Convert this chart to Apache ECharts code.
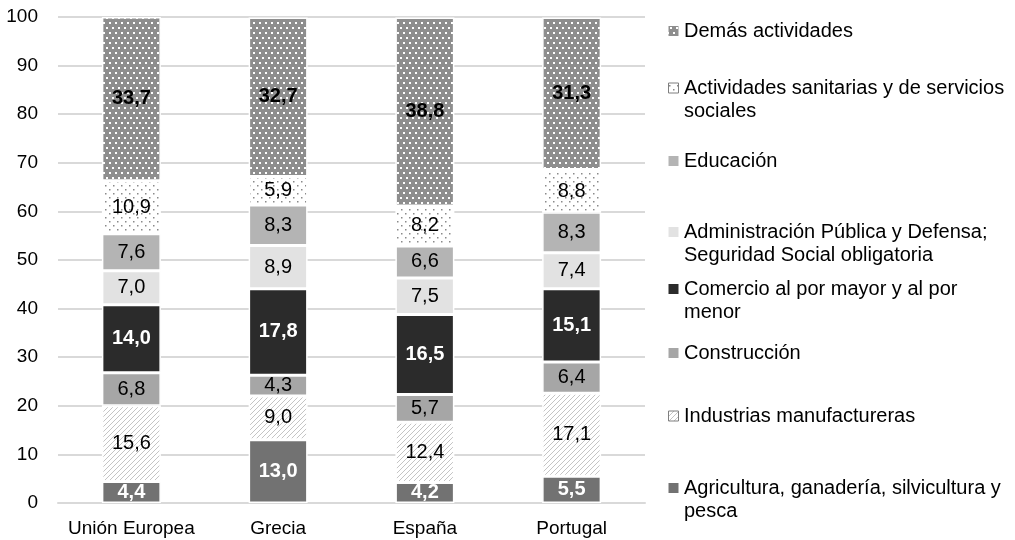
<!DOCTYPE html>
<html>
<head>
<meta charset="utf-8">
<script src="https://cdn.jsdelivr.net/npm/echarts@6/dist/echarts.min.js"></script>
<style>
  html, body { margin: 0; padding: 0; background: #fff; }
  #chart { width: 1015px; height: 540px; }
</style>
</head>
<body>
<div id="chart"></div>
<script>
const categories = ['Unión Europea', 'Grecia', 'España', 'Portugal'];
const agricultura = [4.4, 13.0, 4.2, 5.5];
const industrias = [15.6, 9.0, 12.4, 17.1];
const construccion = [6.8, 4.3, 5.7, 6.4];
const comercio = [14.0, 17.8, 16.5, 15.1];
const administracion = [7.0, 8.9, 7.5, 7.4];
const educacion = [7.6, 8.3, 6.6, 8.3];
const sanitarias = [10.9, 5.9, 8.2, 8.8];
const demas = [33.7, 32.7, 38.8, 31.3];

const FONT = 'Liberation Sans, Arial, sans-serif';

// small canvas tiles for the hatched / dotted fills
function makePattern(w, h, bg, draw) {
  const c = document.createElement('canvas');
  c.width = w;
  c.height = h;
  const ctx = c.getContext('2d');
  ctx.fillStyle = bg;
  ctx.fillRect(0, 0, w, h);
  draw(ctx);
  return { image: c, repeat: 'repeat' };
}

const demasFill = makePattern(6, 10, '#8e8e8e', ctx => {
  ctx.fillStyle = '#ffffff';
  ctx.fillRect(1, 2, 2, 2);
  ctx.fillRect(4, 7, 2, 2);
});
const sanitariasFill = makePattern(8, 8, '#ffffff', ctx => {
  ctx.fillStyle = '#8a8a8a';
  ctx.fillRect(1, 1, 1.5, 1.5);
  ctx.fillRect(5, 5, 1.5, 1.5);
});
const industriasFill = makePattern(5, 5, '#ffffff', ctx => {
  ctx.strokeStyle = '#c4c4c4';
  ctx.lineWidth = 1;
  [-5, 0, 5].forEach(o => {
    ctx.beginPath();
    ctx.moveTo(o, 5);
    ctx.lineTo(o + 5, 0);
    ctx.stroke();
  });
});

const fmt = v => v.toFixed(1).replace('.', ',');

const seriesDefs = [
  { name: 'Agricultura, ganadería, silvicultura y pesca', data: agricultura, fill: '#727272', text: '#fff', bold: true },
  { name: 'Industrias manufactureras', data: industrias, fill: industriasFill, text: '#000', bold: false, outline: true },
  { name: 'Construcción', data: construccion, fill: '#a6a6a6', text: '#000', bold: false },
  { name: 'Comercio al por mayor y al por menor', data: comercio, fill: '#2b2b2b', text: '#fff', bold: true },
  { name: 'Administración Pública y Defensa; Seguridad Social obligatoria', data: administracion, fill: '#e2e2e2', text: '#000', bold: false },
  { name: 'Educación', data: educacion, fill: '#b4b4b4', text: '#000', bold: false },
  { name: 'Actividades sanitarias y de servicios sociales', data: sanitarias, fill: sanitariasFill, text: '#000', bold: false, outline: true },
  { name: 'Demás actividades', data: demas, fill: demasFill, text: '#000', bold: true }
];

const series = seriesDefs.map(s => ({
  name: s.name,
  type: 'bar',
  stack: 'total',
  barWidth: 59,
  data: s.data,
  itemStyle: { color: s.fill, borderColor: '#fff', borderWidth: 1.5 },
  label: {
    show: true,
    position: 'inside',
    formatter: p => fmt(p.value),
    color: s.text,
    fontSize: 20,
    fontWeight: s.bold ? 'bold' : 'normal',
    fontFamily: FONT
  }
}));

// legend drawn by hand so the icon sits on the first text line
const legendRows = [
  { idx: 7, lines: ['Demás actividades'], y: 31 },
  { idx: 6, lines: ['Actividades sanitarias y de servicios', 'sociales'], y: 88 },
  { idx: 5, lines: ['Educación'], y: 161 },
  { idx: 4, lines: ['Administración Pública y Defensa;', 'Seguridad Social obligatoria'], y: 232 },
  { idx: 3, lines: ['Comercio al por mayor y al por', 'menor'], y: 289 },
  { idx: 2, lines: ['Construcción'], y: 353 },
  { idx: 1, lines: ['Industrias manufactureras'], y: 416 },
  { idx: 0, lines: ['Agricultura, ganadería, silvicultura y', 'pesca'], y: 488 }
];

const graphic = [];
legendRows.forEach(r => {
  const s = seriesDefs[r.idx];
  graphic.push({
    type: 'rect',
    shape: { x: 668.5, y: r.y - 5, width: 10, height: 10 },
    style: { fill: s.fill, stroke: s.outline ? '#7f7f7f' : null, lineWidth: 1 }
  });
  graphic.push({
    type: 'text',
    x: 684,
    y: r.y - 11.5,
    style: {
      text: r.lines.join('\n'),
      font: '20px ' + FONT,
      fill: '#000',
      lineHeight: 23,
      verticalAlign: 'top'
    }
  });
});

const chart = echarts.init(document.getElementById('chart'));
chart.setOption({
  animation: false,
  textStyle: { fontFamily: FONT },
  grid: { left: 58, right: 370, top: 17, bottom: 37 },
  xAxis: {
    type: 'category',
    data: categories,
    axisLine: { show: true, lineStyle: { color: '#d9d9d9', width: 2 } },
    axisTick: { show: false },
    axisLabel: { interval: 0, color: '#000', fontSize: 19, margin: 16, fontFamily: FONT }
  },
  yAxis: {
    type: 'value',
    min: 0,
    max: 100,
    interval: 10,
    axisLine: { show: false },
    axisTick: { show: false },
    axisLabel: { color: '#000', fontSize: 19, margin: 20, fontFamily: FONT },
    splitLine: { lineStyle: { color: '#d9d9d9', width: 2 } }
  },
  series: series,
  graphic: graphic
});
</script>
</body>
</html>
